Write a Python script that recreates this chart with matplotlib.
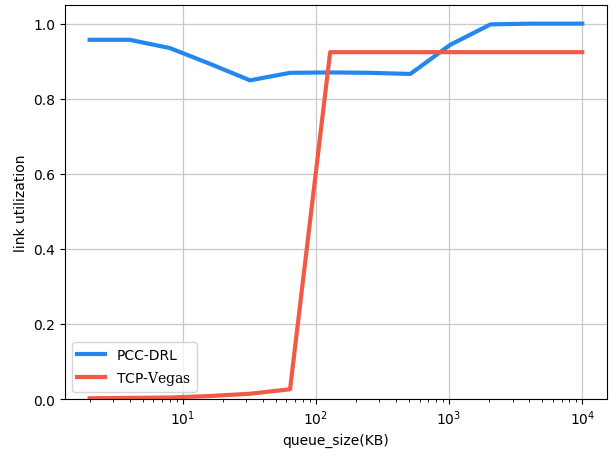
import numpy as np
import matplotlib.pyplot as plt

plt.rcParams['mathtext.fontset'] = 'custom'
plt.rcParams['mathtext.rm'] = 'DejaVu Serif'

queue_size = [2, 4, 8, 16, 32, 64, 128, 256, 512, 1024, 2048, 4096, 10000]
pcc_drl = [0.957, 0.957, 0.935, 0.893, 0.849, 0.869, 0.870, 0.869, 0.866, 0.944, 0.998, 1.0, 1.0]
tcp_vegas = [0.002, 0.003, 0.004, 0.008, 0.014, 0.026, 0.924, 0.924, 0.924, 0.924, 0.924, 0.924, 0.924]

fig = plt.figure(figsize=(6.13, 4.52), dpi=100)
ax = fig.add_axes([0.106, 0.115, 0.884, 0.872])

ax.plot(queue_size, pcc_drl, color='#2288f0', lw=3, label='PCC-DRL')
ax.plot(queue_size, tcp_vegas, color='#f25a45', lw=3, label=r'TCP-$\mathrm{Vegas}$')

ax.set_xscale('log')
ax.set_ylim(0, 1.05)
ax.set_yticks([0.0, 0.2, 0.4, 0.6, 0.8, 1.0])
ax.grid(True, color='#c8c8c8', lw=0.9)
ax.set_xlabel('queue_size(KB)')
ax.set_ylabel('link utilization')
ax.legend(loc='lower left')

fig.savefig('out.png', dpi=100)
